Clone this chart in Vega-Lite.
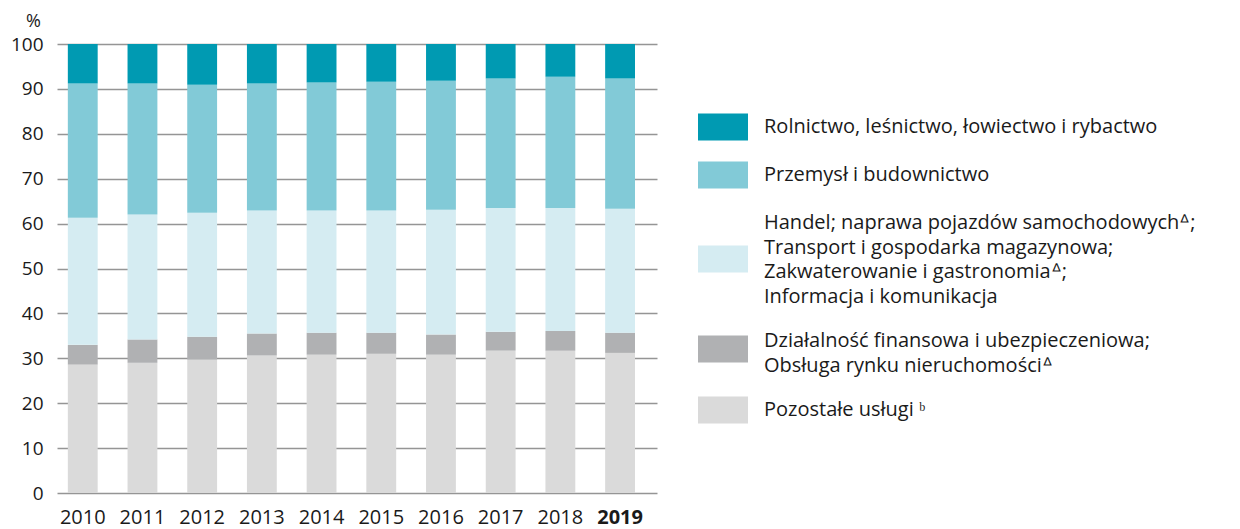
{
  "$schema": "https://vega.github.io/schema/vega-lite/v6.json",
  "width": 600,
  "height": 449,
  "autosize": {"type": "none"},
  "padding": {"left": 57, "top": 44, "right": 583, "bottom": 36},
  "config": {"view": {"stroke": null}, "font": "Open Sans", "style": {"guide-label": {"lineHeight": 24.5}}},
  "data": {"values": [
    {"year": "2010", "cat": "Pozostałe usługi ᵇ", "value": 28.6},
    {"year": "2010", "cat": "Działalność finansowa i ubezpieczeniowa;\nObsługa rynku nieruchomościᐞ", "value": 4.4},
    {"year": "2010", "cat": "Handel; naprawa pojazdów samochodowychᐞ;\nTransport i gospodarka magazynowa;\nZakwaterowanie i gastronomiaᐞ;\nInformacja i komunikacja", "value": 28.3},
    {"year": "2010", "cat": "Przemysł i budownictwo", "value": 29.9},
    {"year": "2010", "cat": "Rolnictwo, leśnictwo, łowiectwo i rybactwo", "value": 8.8},
    {"year": "2011", "cat": "Pozostałe usługi ᵇ", "value": 29.0},
    {"year": "2011", "cat": "Działalność finansowa i ubezpieczeniowa;\nObsługa rynku nieruchomościᐞ", "value": 5.2},
    {"year": "2011", "cat": "Handel; naprawa pojazdów samochodowychᐞ;\nTransport i gospodarka magazynowa;\nZakwaterowanie i gastronomiaᐞ;\nInformacja i komunikacja", "value": 27.8},
    {"year": "2011", "cat": "Przemysł i budownictwo", "value": 29.2},
    {"year": "2011", "cat": "Rolnictwo, leśnictwo, łowiectwo i rybactwo", "value": 8.8},
    {"year": "2012", "cat": "Pozostałe usługi ᵇ", "value": 29.7},
    {"year": "2012", "cat": "Działalność finansowa i ubezpieczeniowa;\nObsługa rynku nieruchomościᐞ", "value": 5.1},
    {"year": "2012", "cat": "Handel; naprawa pojazdów samochodowychᐞ;\nTransport i gospodarka magazynowa;\nZakwaterowanie i gastronomiaᐞ;\nInformacja i komunikacja", "value": 27.6},
    {"year": "2012", "cat": "Przemysł i budownictwo", "value": 28.5},
    {"year": "2012", "cat": "Rolnictwo, leśnictwo, łowiectwo i rybactwo", "value": 9.1},
    {"year": "2013", "cat": "Pozostałe usługi ᵇ", "value": 30.6},
    {"year": "2013", "cat": "Działalność finansowa i ubezpieczeniowa;\nObsługa rynku nieruchomościᐞ", "value": 4.9},
    {"year": "2013", "cat": "Handel; naprawa pojazdów samochodowychᐞ;\nTransport i gospodarka magazynowa;\nZakwaterowanie i gastronomiaᐞ;\nInformacja i komunikacja", "value": 27.4},
    {"year": "2013", "cat": "Przemysł i budownictwo", "value": 28.3},
    {"year": "2013", "cat": "Rolnictwo, leśnictwo, łowiectwo i rybactwo", "value": 8.8},
    {"year": "2014", "cat": "Pozostałe usługi ᵇ", "value": 30.8},
    {"year": "2014", "cat": "Działalność finansowa i ubezpieczeniowa;\nObsługa rynku nieruchomościᐞ", "value": 4.9},
    {"year": "2014", "cat": "Handel; naprawa pojazdów samochodowychᐞ;\nTransport i gospodarka magazynowa;\nZakwaterowanie i gastronomiaᐞ;\nInformacja i komunikacja", "value": 27.2},
    {"year": "2014", "cat": "Przemysł i budownictwo", "value": 28.5},
    {"year": "2014", "cat": "Rolnictwo, leśnictwo, łowiectwo i rybactwo", "value": 8.6},
    {"year": "2015", "cat": "Pozostałe usługi ᵇ", "value": 31.0},
    {"year": "2015", "cat": "Działalność finansowa i ubezpieczeniowa;\nObsługa rynku nieruchomościᐞ", "value": 4.7},
    {"year": "2015", "cat": "Handel; naprawa pojazdów samochodowychᐞ;\nTransport i gospodarka magazynowa;\nZakwaterowanie i gastronomiaᐞ;\nInformacja i komunikacja", "value": 27.2},
    {"year": "2015", "cat": "Przemysł i budownictwo", "value": 28.7},
    {"year": "2015", "cat": "Rolnictwo, leśnictwo, łowiectwo i rybactwo", "value": 8.4},
    {"year": "2016", "cat": "Pozostałe usługi ᵇ", "value": 30.8},
    {"year": "2016", "cat": "Działalność finansowa i ubezpieczeniowa;\nObsługa rynku nieruchomościᐞ", "value": 4.5},
    {"year": "2016", "cat": "Handel; naprawa pojazdów samochodowychᐞ;\nTransport i gospodarka magazynowa;\nZakwaterowanie i gastronomiaᐞ;\nInformacja i komunikacja", "value": 27.8},
    {"year": "2016", "cat": "Przemysł i budownictwo", "value": 28.7},
    {"year": "2016", "cat": "Rolnictwo, leśnictwo, łowiectwo i rybactwo", "value": 8.2},
    {"year": "2017", "cat": "Pozostałe usługi ᵇ", "value": 31.7},
    {"year": "2017", "cat": "Działalność finansowa i ubezpieczeniowa;\nObsługa rynku nieruchomościᐞ", "value": 4.2},
    {"year": "2017", "cat": "Handel; naprawa pojazdów samochodowychᐞ;\nTransport i gospodarka magazynowa;\nZakwaterowanie i gastronomiaᐞ;\nInformacja i komunikacja", "value": 27.6},
    {"year": "2017", "cat": "Przemysł i budownictwo", "value": 28.8},
    {"year": "2017", "cat": "Rolnictwo, leśnictwo, łowiectwo i rybactwo", "value": 7.7},
    {"year": "2018", "cat": "Pozostałe usługi ᵇ", "value": 31.7},
    {"year": "2018", "cat": "Działalność finansowa i ubezpieczeniowa;\nObsługa rynku nieruchomościᐞ", "value": 4.4},
    {"year": "2018", "cat": "Handel; naprawa pojazdów samochodowychᐞ;\nTransport i gospodarka magazynowa;\nZakwaterowanie i gastronomiaᐞ;\nInformacja i komunikacja", "value": 27.4},
    {"year": "2018", "cat": "Przemysł i budownictwo", "value": 29.2},
    {"year": "2018", "cat": "Rolnictwo, leśnictwo, łowiectwo i rybactwo", "value": 7.3},
    {"year": "2019", "cat": "Pozostałe usługi ᵇ", "value": 31.2},
    {"year": "2019", "cat": "Działalność finansowa i ubezpieczeniowa;\nObsługa rynku nieruchomościᐞ", "value": 4.5},
    {"year": "2019", "cat": "Handel; naprawa pojazdów samochodowychᐞ;\nTransport i gospodarka magazynowa;\nZakwaterowanie i gastronomiaᐞ;\nInformacja i komunikacja", "value": 27.6},
    {"year": "2019", "cat": "Przemysł i budownictwo", "value": 29.0},
    {"year": "2019", "cat": "Rolnictwo, leśnictwo, łowiectwo i rybactwo", "value": 7.7}
  ]},
  "transform": [
    {"calculate": "indexof(['Poz', 'Dzi', 'Han', 'Prz', 'Rol'], slice(datum.cat, 0, 3))", "as": "stackRank"}
  ],
  "mark": {"type": "bar"},
  "encoding": {
    "x": {
      "field": "year", "type": "ordinal",
      "scale": {"paddingInner": 0.5, "paddingOuter": 0.275, "align": 0.33},
      "axis": {
        "title": null, "labelAngle": 0, "labelFontSize": 20, "labelColor": "#1a1a1a",
        "labelPadding": 14, "domain": false, "ticks": false,
        "labelFontWeight": {"condition": {"test": "datum.label == '2019'", "value": "bold"}, "value": "normal"}
      }
    },
    "y": {
      "field": "value", "type": "quantitative", "stack": "zero",
      "scale": {"domain": [0, 100], "nice": false},
      "axis": {
        "title": "%", "titleAngle": 0, "titleAlign": "center", "titleBaseline": "alphabetic",
        "titleX": -24, "titleY": -18, "titleFontSize": 18, "titleFontWeight": "normal", "titleColor": "#1a1a1a",
        "values": [0, 10, 20, 30, 40, 50, 60, 70, 80, 90, 100],
        "labelFontSize": 19, "labelColor": "#1a1a1a", "labelPadding": 14,
        "domain": false, "ticks": false, "grid": true, "gridColor": "#959595", "gridWidth": 1.5
      }
    },
    "order": {"field": "stackRank", "type": "quantitative", "sort": "ascending"},
    "color": {
      "field": "cat", "type": "nominal",
      "scale": {
        "domain": [
          "Rolnictwo, leśnictwo, łowiectwo i rybactwo",
          "Przemysł i budownictwo",
          "Handel; naprawa pojazdów samochodowychᐞ;\nTransport i gospodarka magazynowa;\nZakwaterowanie i gastronomiaᐞ;\nInformacja i komunikacja",
          "Działalność finansowa i ubezpieczeniowa;\nObsługa rynku nieruchomościᐞ",
          "Pozostałe usługi ᵇ"
        ],
        "range": ["#009AB2", "#82CAD7", "#D5ECF2", "#B0B1B3", "#DADADA"]
      },
      "legend": {
        "orient": "none", "legendX": 641, "legendY": 58, "title": null,
        "symbolType": {"expr": "datum.index == 2 ? 'M-1,0.9H1V1.98H-1Z' : datum.index == 3 ? 'M-1,-0.22H1V0.86H-1Z' : 'M-1,-0.54H1V0.54H-1Z'"},
        "symbolSize": 2500, "symbolStrokeWidth": 0,
        "labelFontSize": 20, "labelColor": "#1a1a1a", "labelOffset": 16, "rowPadding": 9,
        "labelLimit": 600, "labelExpr": "split(datum.label, '\\n')"
      }
    }
  }
}
